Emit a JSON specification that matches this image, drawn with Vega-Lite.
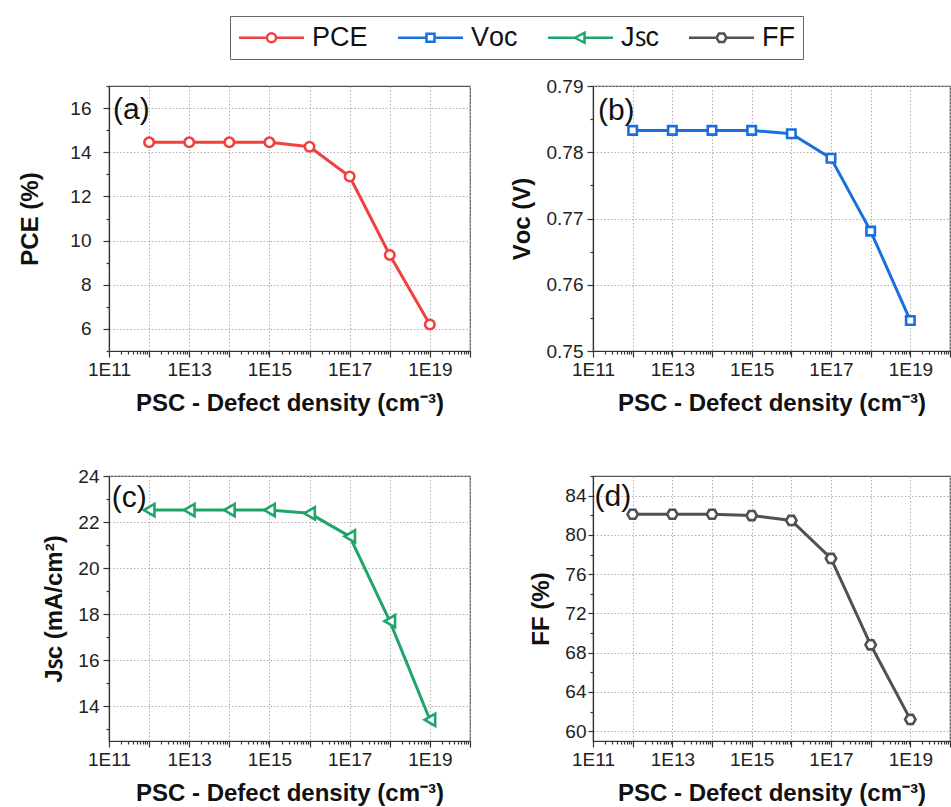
{
  "$schema": "https://vega.github.io/schema/vega-lite/v6.json",
  "padding": {"left": 18, "top": 15, "right": 0, "bottom": 0},
  "datasets": {
    "pv": [
      {"density": 1e12, "metric": "PCE", "value": 14.45},
      {"density": 1e13, "metric": "PCE", "value": 14.45},
      {"density": 1e14, "metric": "PCE", "value": 14.45},
      {"density": 1e15, "metric": "PCE", "value": 14.45},
      {"density": 1e16, "metric": "PCE", "value": 14.25},
      {"density": 1e17, "metric": "PCE", "value": 12.9},
      {"density": 1e18, "metric": "PCE", "value": 9.35},
      {"density": 1e19, "metric": "PCE", "value": 6.2},
      {"density": 1e12, "metric": "VOC", "value": 0.7833},
      {"density": 1e13, "metric": "VOC", "value": 0.7833},
      {"density": 1e14, "metric": "VOC", "value": 0.7833},
      {"density": 1e15, "metric": "VOC", "value": 0.7833},
      {"density": 1e16, "metric": "VOC", "value": 0.7828},
      {"density": 1e17, "metric": "VOC", "value": 0.7791},
      {"density": 1e18, "metric": "VOC", "value": 0.7681},
      {"density": 1e19, "metric": "VOC", "value": 0.7546},
      {"density": 1e12, "metric": "JSC", "value": 22.52},
      {"density": 1e13, "metric": "JSC", "value": 22.52},
      {"density": 1e14, "metric": "JSC", "value": 22.52},
      {"density": 1e15, "metric": "JSC", "value": 22.52},
      {"density": 1e16, "metric": "JSC", "value": 22.38},
      {"density": 1e17, "metric": "JSC", "value": 21.38},
      {"density": 1e18, "metric": "JSC", "value": 17.7},
      {"density": 1e19, "metric": "JSC", "value": 13.42},
      {"density": 1e12, "metric": "FF", "value": 82.1},
      {"density": 1e13, "metric": "FF", "value": 82.1},
      {"density": 1e14, "metric": "FF", "value": 82.1},
      {"density": 1e15, "metric": "FF", "value": 81.97},
      {"density": 1e16, "metric": "FF", "value": 81.47},
      {"density": 1e17, "metric": "FF", "value": 77.6},
      {"density": 1e18, "metric": "FF", "value": 68.8},
      {"density": 1e19, "metric": "FF", "value": 61.2}
    ],
    "one": [{"label": "panel"}]
  },
  "data": {"name": "pv"},
  "columns": 2,
  "bounds": "flush",
  "spacing": {"row": 125, "column": 123},
  "resolve": {"scale": {"color": "shared"}, "legend": {"color": "shared"}},
  "concat": [
    {
      "width": 361, "height": 265,
      "transform": [{"filter": "datum.metric === 'PCE'"}],
      "layer": [
        {
          "mark": {"type": "line", "strokeWidth": 3},
          "encoding": {
            "x": {"field": "density", "type": "quantitative",
              "scale": {"type": "log", "domain": [1e11, 1e20], "nice": false},
              "axis": {"orient": "bottom", "values": [1e11, 1e12, 1e13, 1e14, 1e15, 1e16, 1e17, 1e18, 1e19, 1e20],
                "labelExpr": "floor(log(datum.value)/LN10 + 0.5) % 2 == 1 ? '1E' + floor(log(datum.value)/LN10 + 0.5) : ''",
                "labelFlush": false, "labelOverlap": false, "grid": true, "tickSize": 6, "labelPadding": 3, "labelFontSize": 19,
                "title": "PSC - Defect density (cm⁻³)", "titleFontSize": 24, "titleFontWeight": "bold", "titlePadding": 12}},
            "y": {"field": "value", "type": "quantitative",
              "scale": {"domain": [5, 17], "nice": false, "zero": false},
              "axis": {"orient": "left", "values": [6, 8, 10, 12, 14, 16], "grid": true, "tickSize": 6, "labelPadding": 12, "labelFontSize": 19,
                "title": "PCE (%)", "titleFontSize": 24, "titleFontWeight": "bold", "titlePadding": 27}},
            "color": {"field": "metric", "type": "nominal",
              "scale": {"domain": ["PCE", "VOC", "JSC", "FF"], "range": ["#F14040", "#1A6FDF", "#1FA56A", "#515151"]},
              "legend": {
                "orient": "none", "legendX": 121, "legendY": -70, "direction": "horizontal", "columns": 4,
                "title": null, "labelFontSize": 27, "labelFont": "Liberation Sans", "labelColor": "#111",
                "labelExpr": "datum.value === 'VOC' ? 'Vᴏᴄ' : datum.value === 'JSC' ? 'Jꜱᴄ' : datum.value",
                "symbolSize": 100, "symbolStrokeWidth": 2.5, "symbolOffset": 20, "labelOffset": 27, "columnPadding": 25,
                "padding": 8, "strokeColor": "#666", "fillColor": "white",
                "encode": {"symbols": {"update": {
                  "shape": {"signal": "datum.value === 'PCE' ? 'M-6.5,0L-0.9,0M0.9,0L6.5,0M0.9,0A0.9,0.9,0,1,1,-0.9,0A0.9,0.9,0,1,1,0.9,0Z' : datum.value === 'VOC' ? 'M-6.5,0L-0.8,0M0.8,0L6.5,0M-0.8,-0.8L0.8,-0.8L0.8,0.8L-0.8,0.8Z' : datum.value === 'JSC' ? 'M-6.5,0L-1.1,0M0.8,0L6.5,0M-1.1,0L0.8,-1L0.8,1Z' : 'M-6.5,0L-1,0M1,0L6.5,0M-1,0L-0.5,-0.85L0.5,-0.85L1,0L0.5,0.85L-0.5,0.85Z'"},
                  "fill": {"value": "white"},
                  "fillOpacity": {"value": 1},
                  "opacity": {"value": 1},
                  "strokeWidth": {"value": 2.5}
                }}}
              }}
          }
        },
        {
          "mark": {"type": "point", "shape": "circle", "filled": false, "fill": "white", "fillOpacity": 1, "opacity": 1, "strokeWidth": 2.6, "size": 90},
          "encoding": {
            "x": {"field": "density", "type": "quantitative",
              "axis": {"orient": "bottom", "values": [2e11,3e11,4e11,5e11,6e11,7e11,8e11,9e11,2e12,3e12,4e12,5e12,6e12,7e12,8e12,9e12,2e13,3e13,4e13,5e13,6e13,7e13,8e13,9e13,2e14,3e14,4e14,5e14,6e14,7e14,8e14,9e14,2e15,3e15,4e15,5e15,6e15,7e15,8e15,9e15,2e16,3e16,4e16,5e16,6e16,7e16,8e16,9e16,2e17,3e17,4e17,5e17,6e17,7e17,8e17,9e17,2e18,3e18,4e18,5e18,6e18,7e18,8e18,9e18,2e19,3e19,4e19,5e19,6e19,7e19,8e19,9e19],
                "labels": false, "grid": false, "domain": false, "tickSize": 3, "title": null}},
            "y": {"field": "value", "type": "quantitative",
              "axis": {"orient": "left", "values": [5, 7, 9, 11, 13, 15, 17], "labels": false, "grid": false, "domain": false, "tickSize": 3, "title": null}},
            "color": {"field": "metric", "type": "nominal"}
          }
        },
        {
          "data": {"name": "one"},
          "mark": {"type": "text", "text": "(a)", "align": "left", "baseline": "top", "fontSize": 30, "fontWeight": "normal", "color": "#111"},
          "encoding": {
            "x": {"datum": 1.26e11, "type": "quantitative", "axis": null},
            "y": {"datum": 16.6, "type": "quantitative", "axis": null}
          }
        }
      ],
      "resolve": {"axis": {"x": "independent", "y": "independent"}}
    },
    {
      "width": 357, "height": 265,
      "transform": [{"filter": "datum.metric === 'VOC'"}],
      "layer": [
        {
          "mark": {"type": "line", "strokeWidth": 3},
          "encoding": {
            "x": {"field": "density", "type": "quantitative",
              "scale": {"type": "log", "domain": [1e11, 1e20], "nice": false},
              "axis": {"orient": "bottom", "values": [1e11, 1e12, 1e13, 1e14, 1e15, 1e16, 1e17, 1e18, 1e19, 1e20],
                "labelExpr": "floor(log(datum.value)/LN10 + 0.5) % 2 == 1 ? '1E' + floor(log(datum.value)/LN10 + 0.5) : ''",
                "labelFlush": false, "labelOverlap": false, "grid": true, "tickSize": 6, "labelPadding": 3, "labelFontSize": 19,
                "title": "PSC - Defect density (cm⁻³)", "titleFontSize": 24, "titleFontWeight": "bold", "titlePadding": 12}},
            "y": {"field": "value", "type": "quantitative",
              "scale": {"domain": [0.75, 0.79], "nice": false, "zero": false},
              "axis": {"orient": "left", "values": [0.75, 0.76, 0.77, 0.78, 0.79], "format": ".2f", "grid": true, "tickSize": 6, "labelPadding": 4, "labelFontSize": 19,
                "title": "Vᴏᴄ (V)", "titleFontSize": 24, "titleFontWeight": "bold", "titlePadding": 12}},
            "color": {"field": "metric", "type": "nominal"}
          }
        },
        {
          "mark": {"type": "point", "shape": "square", "filled": false, "fill": "white", "fillOpacity": 1, "opacity": 1, "strokeWidth": 2.6, "size": 72},
          "encoding": {
            "x": {"field": "density", "type": "quantitative",
              "axis": {"orient": "bottom", "values": [2e11,3e11,4e11,5e11,6e11,7e11,8e11,9e11,2e12,3e12,4e12,5e12,6e12,7e12,8e12,9e12,2e13,3e13,4e13,5e13,6e13,7e13,8e13,9e13,2e14,3e14,4e14,5e14,6e14,7e14,8e14,9e14,2e15,3e15,4e15,5e15,6e15,7e15,8e15,9e15,2e16,3e16,4e16,5e16,6e16,7e16,8e16,9e16,2e17,3e17,4e17,5e17,6e17,7e17,8e17,9e17,2e18,3e18,4e18,5e18,6e18,7e18,8e18,9e18,2e19,3e19,4e19,5e19,6e19,7e19,8e19,9e19],
                "labels": false, "grid": false, "domain": false, "tickSize": 3, "title": null}},
            "y": {"field": "value", "type": "quantitative",
              "axis": {"orient": "left", "values": [0.755, 0.765, 0.775, 0.785], "labels": false, "grid": false, "domain": false, "tickSize": 3, "title": null}},
            "color": {"field": "metric", "type": "nominal"}
          }
        },
        {
          "data": {"name": "one"},
          "mark": {"type": "text", "text": "(b)", "align": "left", "baseline": "top", "fontSize": 30, "fontWeight": "normal", "color": "#111"},
          "encoding": {
            "x": {"datum": 1.33e11, "type": "quantitative", "axis": null},
            "y": {"datum": 0.7885, "type": "quantitative", "axis": null}
          }
        }
      ],
      "resolve": {"axis": {"x": "independent", "y": "independent"}}
    },
    {
      "width": 361, "height": 265,
      "transform": [{"filter": "datum.metric === 'JSC'"}],
      "layer": [
        {
          "mark": {"type": "line", "strokeWidth": 3},
          "encoding": {
            "x": {"field": "density", "type": "quantitative",
              "scale": {"type": "log", "domain": [1e11, 1e20], "nice": false},
              "axis": {"orient": "bottom", "values": [1e11, 1e12, 1e13, 1e14, 1e15, 1e16, 1e17, 1e18, 1e19, 1e20],
                "labelExpr": "floor(log(datum.value)/LN10 + 0.5) % 2 == 1 ? '1E' + floor(log(datum.value)/LN10 + 0.5) : ''",
                "labelFlush": false, "labelOverlap": false, "grid": true, "tickSize": 6, "labelPadding": 3, "labelFontSize": 19,
                "title": "PSC - Defect density (cm⁻³)", "titleFontSize": 24, "titleFontWeight": "bold", "titlePadding": 12}},
            "y": {"field": "value", "type": "quantitative",
              "scale": {"domain": [12.5, 24], "nice": false, "zero": false},
              "axis": {"orient": "left", "values": [14, 16, 18, 20, 22, 24], "grid": true, "tickSize": 6, "labelPadding": 4, "labelFontSize": 19,
                "title": "Jꜱᴄ (mA/cm²)", "titleFontSize": 24, "titleFontWeight": "bold", "titlePadding": 11}},
            "color": {"field": "metric", "type": "nominal"}
          }
        },
        {
          "mark": {"type": "point", "shape": "triangle-left", "filled": false, "fill": "white", "fillOpacity": 1, "opacity": 1, "strokeWidth": 2.6, "size": 150},
          "encoding": {
            "x": {"field": "density", "type": "quantitative",
              "axis": {"orient": "bottom", "values": [2e11,3e11,4e11,5e11,6e11,7e11,8e11,9e11,2e12,3e12,4e12,5e12,6e12,7e12,8e12,9e12,2e13,3e13,4e13,5e13,6e13,7e13,8e13,9e13,2e14,3e14,4e14,5e14,6e14,7e14,8e14,9e14,2e15,3e15,4e15,5e15,6e15,7e15,8e15,9e15,2e16,3e16,4e16,5e16,6e16,7e16,8e16,9e16,2e17,3e17,4e17,5e17,6e17,7e17,8e17,9e17,2e18,3e18,4e18,5e18,6e18,7e18,8e18,9e18,2e19,3e19,4e19,5e19,6e19,7e19,8e19,9e19],
                "labels": false, "grid": false, "domain": false, "tickSize": 3, "title": null}},
            "y": {"field": "value", "type": "quantitative",
              "axis": {"orient": "left", "values": [13, 15, 17, 19, 21, 23], "labels": false, "grid": false, "domain": false, "tickSize": 3, "title": null}},
            "color": {"field": "metric", "type": "nominal"}
          }
        },
        {
          "data": {"name": "one"},
          "mark": {"type": "text", "text": "(c)", "align": "left", "baseline": "top", "fontSize": 30, "fontWeight": "normal", "color": "#111"},
          "encoding": {
            "x": {"datum": 1.17e11, "type": "quantitative", "axis": null},
            "y": {"datum": 23.7, "type": "quantitative", "axis": null}
          }
        }
      ],
      "resolve": {"axis": {"x": "independent", "y": "independent"}}
    },
    {
      "width": 357, "height": 265,
      "transform": [{"filter": "datum.metric === 'FF'"}],
      "layer": [
        {
          "mark": {"type": "line", "strokeWidth": 3},
          "encoding": {
            "x": {"field": "density", "type": "quantitative",
              "scale": {"type": "log", "domain": [1e11, 1e20], "nice": false},
              "axis": {"orient": "bottom", "values": [1e11, 1e12, 1e13, 1e14, 1e15, 1e16, 1e17, 1e18, 1e19, 1e20],
                "labelExpr": "floor(log(datum.value)/LN10 + 0.5) % 2 == 1 ? '1E' + floor(log(datum.value)/LN10 + 0.5) : ''",
                "labelFlush": false, "labelOverlap": false, "grid": true, "tickSize": 6, "labelPadding": 3, "labelFontSize": 19,
                "title": "PSC - Defect density (cm⁻³)", "titleFontSize": 24, "titleFontWeight": "bold", "titlePadding": 12}},
            "y": {"field": "value", "type": "quantitative",
              "scale": {"domain": [59, 86], "nice": false, "zero": false},
              "axis": {"orient": "left", "values": [60, 64, 68, 72, 76, 80, 84], "grid": true, "tickSize": 5, "labelPadding": 2, "labelFontSize": 19,
                "title": "FF (%)", "titleFontSize": 24, "titleFontWeight": "bold", "titlePadding": 11}},
            "color": {"field": "metric", "type": "nominal"}
          }
        },
        {
          "mark": {"type": "point", "shape": "M-1,0L-0.5,-0.866L0.5,-0.866L1,0L0.5,0.866L-0.5,0.866Z", "filled": false, "fill": "white", "fillOpacity": 1, "opacity": 1, "strokeWidth": 2.6, "size": 110},
          "encoding": {
            "x": {"field": "density", "type": "quantitative",
              "axis": {"orient": "bottom", "values": [2e11,3e11,4e11,5e11,6e11,7e11,8e11,9e11,2e12,3e12,4e12,5e12,6e12,7e12,8e12,9e12,2e13,3e13,4e13,5e13,6e13,7e13,8e13,9e13,2e14,3e14,4e14,5e14,6e14,7e14,8e14,9e14,2e15,3e15,4e15,5e15,6e15,7e15,8e15,9e15,2e16,3e16,4e16,5e16,6e16,7e16,8e16,9e16,2e17,3e17,4e17,5e17,6e17,7e17,8e17,9e17,2e18,3e18,4e18,5e18,6e18,7e18,8e18,9e18,2e19,3e19,4e19,5e19,6e19,7e19,8e19,9e19],
                "labels": false, "grid": false, "domain": false, "tickSize": 3, "title": null}},
            "y": {"field": "value", "type": "quantitative",
              "axis": {"orient": "left", "values": [62, 66, 70, 74, 78, 82, 86], "labels": false, "grid": false, "domain": false, "tickSize": 3, "title": null}},
            "color": {"field": "metric", "type": "nominal"}
          }
        },
        {
          "data": {"name": "one"},
          "mark": {"type": "text", "text": "(d)", "align": "left", "baseline": "top", "fontSize": 30, "fontWeight": "normal", "color": "#111"},
          "encoding": {
            "x": {"datum": 1.09e11, "type": "quantitative", "axis": null},
            "y": {"datum": 85.4, "type": "quantitative", "axis": null}
          }
        }
      ],
      "resolve": {"axis": {"x": "independent", "y": "independent"}}
    }
  ],
  "config": {
    "font": "Liberation Sans",
    "axis": {"labelFont": "Liberation Sans", "titleFont": "Liberation Sans", "labelColor": "#222", "titleColor": "#111",
      "domainColor": "#333", "tickColor": "#333", "domainWidth": 1.2, "tickWidth": 1.2,
      "gridColor": "#b0b0b0", "gridDash": [1.5, 2], "gridWidth": 1},
    "view": {"stroke": "#555", "strokeWidth": 1.2},
    "text": {"font": "Liberation Sans"}
  }
}
